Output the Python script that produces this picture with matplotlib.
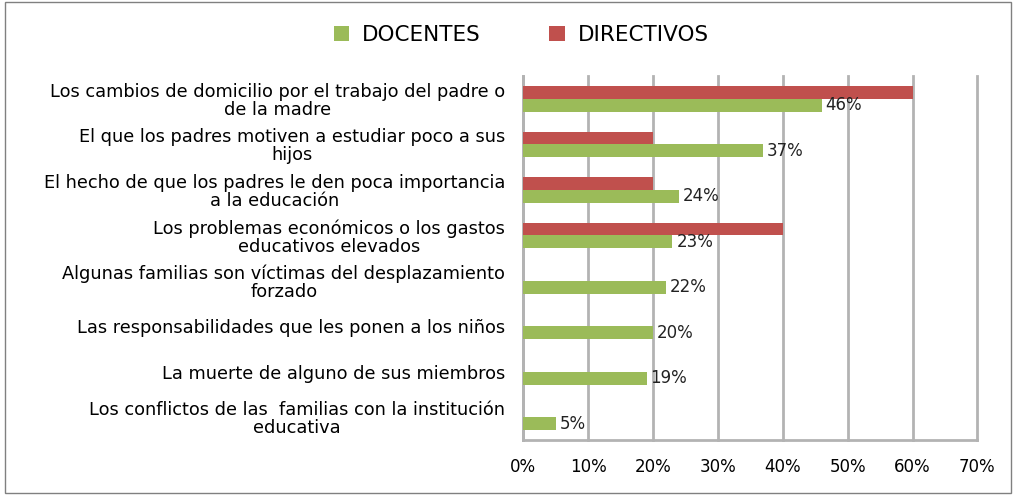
import matplotlib.pyplot as plt
from matplotlib.patches import Rectangle

# datos
categorias = [
    'Los cambios de domicilio por el trabajo del padre o\nde la madre',
    'El que los padres motiven a estudiar poco a sus\nhijos',
    'El hecho de que los padres le den poca importancia\na la educación',
    'Los problemas económicos o los gastos\neducativos elevados',
    'Algunas familias son víctimas del desplazamiento\nforzado',
    'Las responsabilidades que les ponen a los niños',
    'La muerte de alguno de sus miembros',
    'Los conflictos de las  familias con la institución\neducativa',
]
docentes = [46, 37, 24, 23, 22, 20, 19, 5]
directivos = [60, 20, 20, 40, 0, 0, 0, 0]
ticks = [0, 10, 20, 30, 40, 50, 60, 70]

verde = '#9bbb59'
rojo = '#c0504d'
gris = '#b3b3b3'

plt.rcParams['font.family'] = ['DejaVu Sans']

fig = plt.figure(figsize=(10.16, 4.95), dpi=100)
ax = fig.add_axes([0.515, 0.111, 0.447, 0.735])

n = len(categorias)
y = list(range(n))
h = 0.28
ax.barh([i - h / 2 for i in y], directivos, height=h, color=rojo, label='DIRECTIVOS', zorder=3)
ax.barh([i + h / 2 for i in y], docentes, height=h, color=verde, label='DOCENTES', zorder=3)

for i, v in enumerate(docentes):
    ax.text(v + 0.6, i + h / 2, f'{v}%', va='center', ha='left', fontsize=12, color='#222222', zorder=4)

ax.set_ylim(n - 0.5, -0.5)
ax.set_xlim(0, 70)
ax.set_xticks(ticks)
ax.set_xticklabels([f'{t}%' for t in ticks], fontsize=12)
ax.set_yticks(y)
ax.set_yticklabels(categorias, fontsize=12.8, multialignment='center', linespacing=1.0)
ax.tick_params(length=0, pad=13)
ax.tick_params(axis='x', pad=13)
ax.grid(axis='x', color=gris, linewidth=2, zorder=0)
for gl in ax.get_xgridlines():
    gl.set_clip_on(False)
for s in ['top', 'right']:
    ax.spines[s].set_visible(False)
for s in ['left', 'bottom']:
    ax.spines[s].set_color(gris)
    ax.spines[s].set_linewidth(2)

hd, lb = ax.get_legend_handles_labels()
fig.legend(hd[::-1], lb[::-1], loc='center', bbox_to_anchor=(0.513, 0.93), ncol=2,
           frameon=False, fontsize=15.5, handlelength=0.7, handleheight=0.7,
           columnspacing=3.2, handletextpad=0.6)

fig.patches.append(Rectangle((0.005, 0.005), 0.99, 0.99, transform=fig.transFigure,
                             fill=False, edgecolor='#808080', linewidth=1))

fig.savefig('out.png', dpi=100)
